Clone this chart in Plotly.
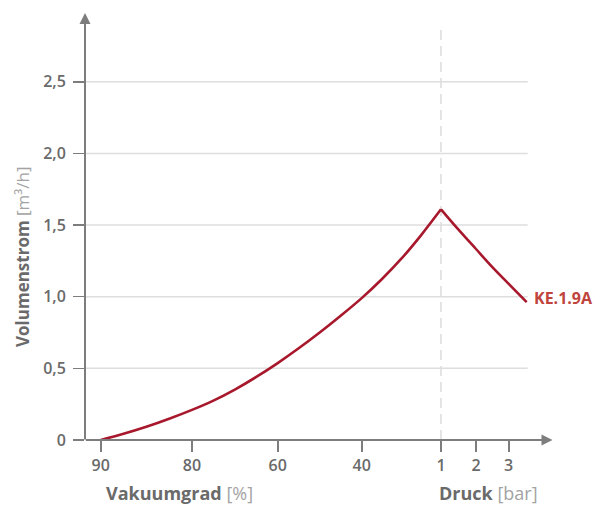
import numpy as np
import plotly.graph_objects as go

# ---------------- data ----------------
# left branch: Vakuumgrad [%] -> Volumenstrom [m3/h]
vac_pct = [90, 87.5, 85, 82.5, 80, 75, 70, 65, 60, 55, 50, 45, 40, 30, 20, 10, 5, 0]
vac_flow = [0.0, 0.043, 0.092, 0.148, 0.21, 0.275, 0.352, 0.44, 0.537, 0.64, 0.75, 0.867,
            0.99, 1.12, 1.265, 1.43, 1.52, 1.61]
# right branch: Druck [bar] -> Volumenstrom [m3/h]
bar_p = [1.0, 1.5, 2.0, 2.5, 3.0, 3.55]
bar_flow = [1.61, 1.468, 1.333, 1.207, 1.09, 0.962]

series_name = "KE.1.9A"
x_tick_labels = ["90", "80", "60", "40", "1", "2", "3"]
y_tick_vals = [0, 0.5, 1.0, 1.5, 2.0, 2.5]
y_tick_labels = ["0", "0,5", "1,0", "1,5", "2,0", "2,5"]

# ---------------- layout constants ----------------
W, H = 597, 508
ML, MR, MT, MB = 85, 44, 13, 68
PW = W - ML - MR
PH = H - MT - MB
X_RANGE = [ML, W - MR]            # axis units = horizontal position
Y_RANGE = [0, 2.98]

# axis positions of the (non-linear) tick marks
VAC_TICKS = [90, 80, 60, 40, 0]
VAC_POS = [100.7, 192.0, 277.7, 361.7, 441.0]
BAR_TICKS = [1, 2, 3]
BAR_POS = [441.0, 476.0, 508.7]
TICK_POS = VAC_POS[:4] + BAR_POS


def vac_to_x(v):
    # piecewise-linear scale of the vacuum part (values decreasing)
    return np.interp(-np.asarray(v, float), [-t for t in VAC_TICKS], VAC_POS)


def bar_to_x(p):
    p = np.asarray(p, float)
    slope = (BAR_POS[-1] - BAR_POS[-2]) / (BAR_TICKS[-1] - BAR_TICKS[-2])
    inside = np.interp(p, BAR_TICKS, BAR_POS)
    return np.where(p > BAR_TICKS[-1], BAR_POS[-1] + (p - BAR_TICKS[-1]) * slope, inside)


def px_to_paper_x(px):
    return (px - ML) / PW


def px_to_paper_y(py):
    return (H - MB - py) / PH


RED = "#a8182c"
LABEL_RED = "#c0443c"
AXIS_GREY = "#7d7d7d"
TEXT_GREY = "#6a6a6a"
LIGHT_GREY = "#a3a3a3"
GRID = "#dedede"
FONT = "Open Sans"

fig = go.Figure()

fig.add_trace(go.Scatter(
    x=vac_to_x(vac_pct), y=vac_flow, mode="lines",
    line=dict(color=RED, width=2.6, shape="spline", smoothing=1.0),
    hoverinfo="skip", showlegend=False,
))
fig.add_trace(go.Scatter(
    x=bar_to_x(bar_p), y=bar_flow, mode="lines",
    line=dict(color=RED, width=2.6, shape="spline", smoothing=1.0),
    hoverinfo="skip", showlegend=False, name=series_name,
))

shapes = []
for yv in y_tick_vals[1:]:
    shapes.append(dict(type="line", xref="x", yref="y", x0=ML, x1=527.7, y0=yv, y1=yv,
                       line=dict(color=GRID, width=1.5), layer="below"))
# dashed line at atmospheric pressure (1 bar)
shapes.append(dict(type="line", xref="x", yref="paper", x0=BAR_POS[0], x1=BAR_POS[0],
                   y0=0, y1=px_to_paper_y(24),
                   line=dict(color="#dcdcdc", width=1.5, dash="10px,6px"), layer="below"))

annotations = [
    # x axis with arrow
    dict(xref="paper", yref="paper", x=px_to_paper_x(552.5), y=0, ax=84.3 - 552.5, ay=0,
         axref="pixel", ayref="pixel", text="", showarrow=True, arrowhead=2, arrowsize=1.1,
         arrowwidth=2, arrowcolor=AXIS_GREY, standoff=0),
    # y axis with arrow
    dict(xref="paper", yref="paper", x=0, y=1, ax=0, ay=PH + 1, text="", showarrow=True,
         arrowhead=2, arrowsize=1.1, arrowwidth=2, arrowcolor=AXIS_GREY, standoff=0),
    # series label
    dict(xref="x", yref="y", x=float(bar_to_x(bar_p[-1])), y=bar_flow[-1], text="<b>" + series_name + "</b>",
         showarrow=False, xanchor="left", yanchor="middle", xshift=5, yshift=4,
         font=dict(family=FONT, size=16, color=LABEL_RED)),
    # x axis titles
    dict(xref="paper", yref="paper", x=px_to_paper_x(104), y=px_to_paper_y(493),
         text="<b>Vakuumgrad</b> <span style='color:%s'>[%%]</span>" % LIGHT_GREY,
         showarrow=False, xanchor="left", yanchor="middle",
         font=dict(family=FONT, size=18, color=TEXT_GREY)),
    dict(xref="paper", yref="paper", x=px_to_paper_x(437), y=px_to_paper_y(493),
         text="<b>Druck</b> <span style='color:%s'>[bar]</span>" % LIGHT_GREY,
         showarrow=False, xanchor="left", yanchor="middle",
         font=dict(family=FONT, size=18, color=TEXT_GREY)),
    # y axis title
    dict(xref="paper", yref="paper", x=px_to_paper_x(22), y=px_to_paper_y(257),
         text="<b>Volumenstrom</b> <span style='color:%s'>[m³/h]</span>" % LIGHT_GREY,
         showarrow=False, textangle=-90, xanchor="center", yanchor="middle",
         font=dict(family=FONT, size=17, color=TEXT_GREY)),
]

fig.update_layout(
    width=W, height=H,
    margin=dict(l=ML, r=MR, t=MT, b=MB, pad=0),
    paper_bgcolor="white", plot_bgcolor="white",
    showlegend=False,
    font=dict(family=FONT, color=TEXT_GREY),
    xaxis=dict(range=X_RANGE, tickmode="array", tickvals=TICK_POS, ticktext=x_tick_labels,
               ticks="outside", ticklen=11, tickwidth=2, tickcolor=AXIS_GREY,
               showgrid=False, zeroline=False, showline=False, fixedrange=True,
               tickfont=dict(family=FONT, size=16, color=TEXT_GREY, weight=600)),
    yaxis=dict(range=Y_RANGE, tickmode="array", tickvals=y_tick_vals, ticktext=y_tick_labels,
               ticks="outside", ticklen=11, tickwidth=1.5, tickcolor=AXIS_GREY,
               ticklabelstandoff=4,
               showgrid=False, zeroline=False, showline=False, fixedrange=True,
               tickfont=dict(family=FONT, size=16, color=TEXT_GREY, weight=600)),
    shapes=shapes,
    annotations=annotations,
)

fig.write_html(
    "out.html",
    config={"displayModeBar": False, "staticPlot": True},
    post_script="document.body.style.margin='0px';document.body.style.overflow='hidden';",
)
